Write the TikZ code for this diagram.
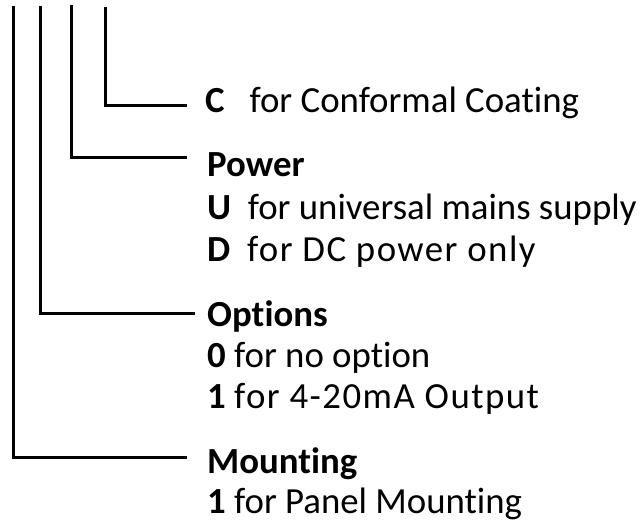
\documentclass[tikz,border=0pt]{standalone}
\usepackage{fontspec}
\setmainfont{Carlito}[Ligatures={NoCommon,NoContextual,NoRequired},RawFeature={-liga;-clig;-calt}]
\newcommand{\nolig}{\kern0pt }
\begin{document}
\begin{tikzpicture}[x=1pt,y=-1pt,
  conn/.style={line width=3pt, line cap=butt, line join=miter},
  lbl/.style={anchor=base west, inner sep=0pt, font=\fontsize{36.8}{40}\selectfont}]
\useasboundingbox (0,0) rectangle (644,520);
% labels
\node[lbl] (c)  at (205,112) {\textbf{C}\ \ \ for Conformal Coat\nolig ing};
\node[lbl] (pw) at (207,176) {\textbf{Power}};
\node[lbl] (u)  at (207,219) {\textbf{U}\ \ for universal mains supply};
\node[lbl] (d)  at (207,261) {\textbf{D}\ \ {\addfontfeature{LetterSpace=4}for DC power only}};
\node[lbl] (op) at (207,326) {\textbf{Opt\nolig ions}};
\node[lbl] (o0) at (207,367) {\textbf{0}\ for no opt\nolig ion};
\node[lbl] (o1) at (207,408) {\textbf{1}\ {\addfontfeature{LetterSpace=4}for 4-20mA Output}};
\node[lbl] (mt) at (207,473) {\textbf{Mount\nolig ing}};
\node[lbl] (m1) at (207,513) {\textbf{1}\ for Panel Mount\nolig ing};
% connector ends
\coordinate (t1) at (13,6);
\coordinate (t2) at (40,6);
\coordinate (t3) at (71,5);
\coordinate (t4) at (105,7);
\coordinate (e1) at (187,457);
\coordinate (e2) at (195,313);
\coordinate (e3) at (187,157);
\coordinate (e4) at (187,105);
\draw[conn] (t1) |- (e1);
\draw[conn] (t2) |- (e2);
\draw[conn] (t3) |- (e3);
\draw[conn] (t4) |- (e4);
\end{tikzpicture}
\end{document}
